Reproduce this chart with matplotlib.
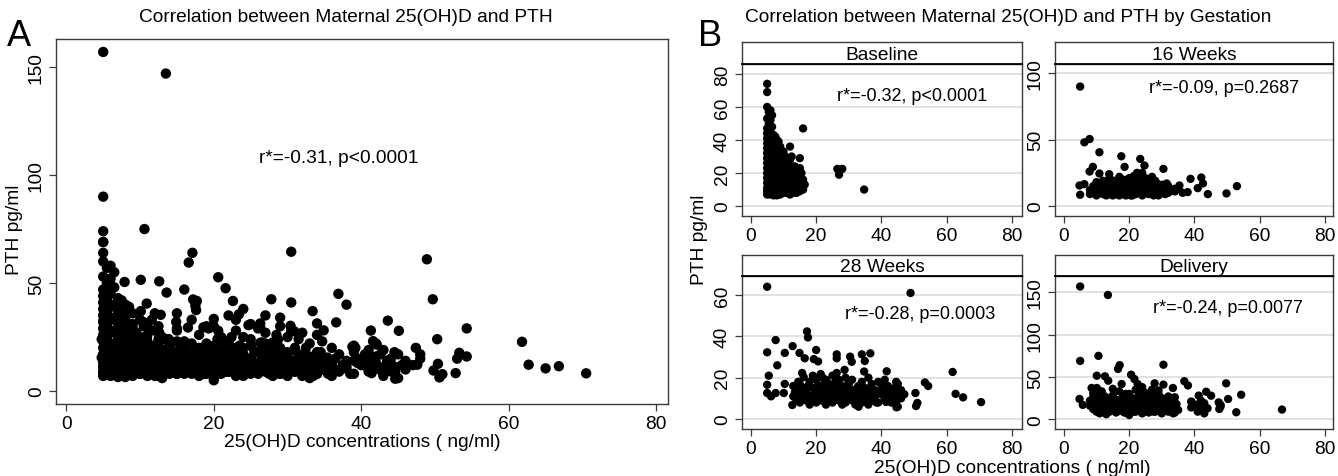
import matplotlib
matplotlib.use('Agg')
import matplotlib.pyplot as plt

plt.rcParams['font.family'] = ['Liberation Sans', 'DejaVu Sans']

# readings per gestation stage: (25(OH)D ng/ml, PTH pg/ml)
baseline = [
    (5, 74), (5, 69), (5, 60), (5, 53), (5, 47), (5, 44), (5, 41), (5, 38), (5, 35), (5, 32),
    (5, 29), (5, 26), (5, 23), (5, 20), (5, 17), (5, 14), (5, 11), (5, 9), (5, 7),
    (5.5, 57), (5.5, 50), (5.5, 42), (5.5, 36), (5.5, 30), (5.5, 24), (5.5, 18), (5.5, 12), (5.5, 8),
    (6, 58), (6, 52), (6, 45), (6, 39), (6, 33), (6, 27), (6, 21), (6, 15), (6, 10), (6, 7),
    (6.5, 55), (6.5, 48), (6.5, 40), (6.5, 34), (6.5, 28), (6.5, 22), (6.5, 16), (6.5, 12), (6.5, 8),
    (7, 43), (7, 37), (7, 31), (7, 25), (7, 19), (7, 13), (7, 9), (7, 6.5),
    (7.5, 42), (7.5, 35), (7.5, 29), (7.5, 23), (7.5, 17), (7.5, 11), (7.5, 8),
    (8, 40), (8, 33), (8, 27), (8, 21), (8, 15), (8, 10), (8, 6.5),
    (8.5, 39), (8.5, 31), (8.5, 24), (8.5, 18), (8.5, 12), (8.5, 8),
    (9, 36), (9, 29), (9, 22), (9, 16), (9, 11), (9, 7),
    (9.5, 27), (9.5, 20), (9.5, 14), (9.5, 9),
    (10, 33), (10, 25), (10, 18), (10, 12), (10, 8),
    (10.5, 30), (10.5, 22), (10.5, 15), (10.5, 10),
    (11, 26), (11, 19), (11, 13), (11, 8), (11.5, 17), (11.5, 11),
    (12, 36), (12, 28), (12, 21), (12, 14), (12, 9), (12, 7),
    (12.5, 30), (12.5, 24), (12.5, 17), (12.5, 11),
    (13, 19), (13, 13), (13, 8), (13.5, 24), (13.5, 16), (13.5, 10),
    (14, 21), (14, 13), (14, 8), (14.5, 18), (14.5, 11),
    (15, 29), (15, 23), (15, 15), (15, 9), (15.5, 20), (15.5, 12),
    (16, 47), (16, 16), (16, 10), (16.5, 13),
    (26.5, 22.5), (28, 22.5), (27, 19), (34.7, 10),
]

weeks16 = [
    (5, 90), (6.3, 48), (7.9, 50.5), (10.9, 40.5), (17.6, 37.5), (23.4, 35.5), (24.7, 30.5),
    (18.6, 29.5), (8.9, 29.5), (7.9, 26), (30.5, 28), (10.9, 24.5), (13.9, 24), (22.4, 25),
    (21.4, 22.5), (38.8, 20.5), (42.1, 21.5), (42.6, 17), (53, 15), (4.8, 15.5), (6.3, 16.5),
    (5, 8.5), (44.1, 9), (49.8, 9.5), (35.4, 15.5), (36.4, 10), (37.9, 10.5), (41, 13.5),
    (8, 12), (8, 9), (9, 15), (9, 10), (10, 18), (10, 8), (11, 13), (11, 10),
    (12, 19), (12, 16), (12, 9), (13, 14), (13, 11), (13, 8),
    (14, 21), (14, 17), (14, 12), (14, 9), (15, 15), (15, 10), (15, 8),
    (16, 19), (16, 13), (16, 9), (17, 22), (17, 16), (17, 11), (17, 8),
    (18, 20), (18, 14), (18, 10), (19, 17), (19, 12), (19, 8),
    (20, 21), (20, 15), (20, 10), (21, 18), (21, 13), (21, 8),
    (22, 23), (22, 16), (22, 11), (22, 9), (23, 20), (23, 14), (23, 10),
    (24, 25), (24, 17), (24, 12), (24, 8), (25, 21), (25, 15), (25, 10),
    (26, 18), (26, 13), (26, 9), (27, 22), (27, 16), (27, 11),
    (28, 19), (28, 14), (28, 9), (29, 12), (29, 8), (30, 16), (30, 11),
    (31, 13), (31, 9), (32, 15), (32, 10), (34, 13), (34, 11),
    (10.5, 15), (11.5, 17), (12.5, 12), (13.5, 19), (15.5, 13), (16.5, 17), (18.5, 12),
    (19.5, 20), (20.5, 12), (21.5, 16), (23.5, 17), (25.5, 13), (26.5, 20), (28.5, 17),
    (29.5, 14), (31.5, 17), (33, 12), (35, 13), (27.5, 8), (20.5, 8), (15.5, 19),
]

weeks28 = [
    (5, 64), (48.9, 61), (17.2, 42.4), (17.5, 39.5), (7.6, 38.2), (12.8, 35.3), (5, 32.3),
    (10.4, 32), (14.9, 32), (16.5, 29.4), (20, 33.4), (19.3, 29), (20.6, 27.9), (26.3, 31.3),
    (26.3, 29.4), (30.4, 30.2), (30.9, 27.7), (34, 31.3), (34.9, 28.1), (36.6, 31.8), (8.1, 26),
    (26.3, 22.3), (28.7, 23.8), (15.7, 22.3), (16.2, 20.3), (34.7, 23), (41.6, 23.1), (5.5, 21),
    (21.4, 21.8), (61.8, 22.8), (53.3, 17.7), (54.3, 16), (62.7, 12.2), (65, 10.5), (70.5, 8.2),
    (12.7, 6.8), (5, 16.6), (5, 12.6), (7.6, 12.6), (10.4, 17), (10.1, 12.6), (50.4, 12.6),
    (51, 7.8), (50.6, 6.3), (44.6, 5.7), (44.6, 9), (46, 13.5), (44.6, 11.1), (41.4, 8.3), (6.2, 11),
    (13, 16), (13, 11), (14, 14), (14, 9), (15, 17), (15, 12), (15, 8), (16, 15), (16, 10),
    (17, 13), (17, 9), (18, 18), (18, 11), (18, 7), (19, 15), (19, 9), (20, 19), (20, 13), (20, 8),
    (21, 16), (21, 11), (22, 20), (22, 14), (22, 9), (23, 12), (23, 7), (24, 17), (24, 10),
    (25, 15), (25, 8), (26, 18), (26, 12), (27, 14), (27, 9), (28, 16), (28, 11), (28, 7),
    (29, 13), (29, 8), (30, 17), (30, 10), (31, 19), (31, 14), (31, 9), (32, 12), (32, 7),
    (33, 16), (33, 10), (33, 6), (34, 18), (34, 13), (34, 8), (35, 15), (35, 11),
    (36, 20), (36, 12), (36, 7), (37, 17), (37, 9), (38, 14), (38, 11), (39, 18), (39, 8),
    (40, 15), (40, 12), (41, 19), (41, 10), (42, 16), (42, 13), (43, 11), (43, 8),
    (44, 15), (44, 12), (45, 17), (45, 6), (46, 14), (46, 10), (47, 12),
    (13.5, 13), (14.5, 18), (15.5, 10), (16.5, 13), (17.5, 16), (18.5, 9), (19.5, 12),
    (20.5, 16), (21.5, 9), (22.5, 17), (23.5, 14), (24.5, 13), (25.5, 11), (26.5, 15),
    (27.5, 12), (28.5, 9), (29.5, 16), (30.5, 13), (31.5, 11), (32.5, 15), (33.5, 13),
    (34.5, 10), (35.5, 8), (36.5, 15), (37.5, 12), (38.5, 8), (39.5, 13), (40.5, 17),
    (41.5, 14), (42.5, 10), (43.5, 14), (44.5, 18), (45.5, 12), (23, 19), (27, 19),
    (29, 20), (25, 21), (19, 21),
]

delivery = [
    (5, 157), (13.5, 147), (5, 69), (10.6, 75), (17.1, 64), (16.6, 59.5), (30.5, 64.5),
    (10.1, 51.5), (12.6, 50.8), (13.6, 45.6), (20.6, 52.7), (21.6, 47.6), (22.6, 41.7),
    (17.7, 41.7), (27.8, 42.5), (30.5, 41), (36.9, 45), (38, 40), (33.4, 37), (49.7, 42.5),
    (54.3, 29), (52.8, 8.3), (50.3, 24), (43.6, 32.6), (45.1, 27.9), (41.3, 28), (47.4, 20),
    (47.6, 12.2), (8.5, 37), (10.1, 37), (4.8, 24), (5.8, 17), (11.6, 33), (12.6, 27),
    (39.2, 20), (40.7, 17), (66.8, 11.5),
    (8, 22), (8, 16), (9, 26), (9, 12), (10, 19), (10, 9), (11, 30), (11, 23), (11, 14), (11, 7),
    (12, 18), (12, 10), (13, 25), (13, 13), (13, 6), (14, 21), (14, 16), (14, 9), (15, 28), (15, 12),
    (16, 23), (16, 17), (16, 8), (17, 14), (17, 10), (18, 26), (18, 19), (18, 12), (19, 22), (19, 8),
    (20, 30), (20, 16), (20, 11), (20, 5), (21, 25), (21, 19), (21, 13), (22, 35), (22, 22), (22, 9),
    (23, 28), (23, 16), (23, 12), (24, 38), (24, 20), (24, 7), (25, 31), (25, 24), (25, 14), (25, 10),
    (26, 18), (26, 8), (27, 35), (27, 27), (27, 13), (28, 22), (28, 16), (28, 9), (29, 30), (29, 11),
    (30, 25), (30, 18), (30, 7), (31, 20), (31, 13), (32, 27), (32, 16), (32, 9), (33, 22), (33, 12),
    (34, 26), (34, 15), (34, 8), (35, 11), (39, 14), (39, 21), (41, 9), (41, 16), (42, 12), (42, 22),
    (43, 7), (43, 19), (44, 13), (48, 15), (48, 17),
    (9.5, 18), (10.5, 13), (12.5, 22), (13.5, 17), (14.5, 12), (15.5, 20), (16.5, 13),
    (17.5, 19), (18.5, 8), (19.5, 15), (20.5, 24), (21.5, 9), (22.5, 15), (23.5, 21),
    (24.5, 11), (25.5, 18), (26.5, 22), (27.5, 9), (28.5, 26), (29.5, 15), (30.5, 12),
    (31.5, 24), (32.5, 20), (33.5, 7), (34.5, 18), (19, 30), (17, 33), (15, 36), (23, 33),
    (26, 29), (29, 34), (9, 31), (10, 24),
]

panel_titles = ['Baseline', '16 Weeks', '28 Weeks', 'Delivery']
panel_notes = ['r*=-0.32, p<0.0001', 'r*=-0.09, p=0.2687', 'r*=-0.28, p=0.0003', 'r*=-0.24, p=0.0077']
panel_yticks = [[0, 20, 40, 60, 80], [0, 50, 100], [0, 20, 40, 60], [0, 50, 100, 150]]
xticks = [0, 20, 40, 60, 80]

W, H = 1338, 477
FS = 13.8
FRAME = '#3a3a3a'


def box(l, t, r, b):
    return [l / W, 1 - b / H, (r - l) / W, (b - t) / H]


def style(ax, yt):
    for s in ax.spines.values():
        s.set_color(FRAME)
        s.set_linewidth(1.0)
    ax.set_xticks(xticks)
    ax.set_yticks(yt)
    ax.tick_params(direction='out', length=5, width=0.9, color=FRAME, labelsize=FS, pad=3)
    for lab in ax.get_yticklabels():
        lab.set_rotation(90)
        lab.set_va('center')


fig = plt.figure(figsize=(W / 100, H / 100), dpi=100)

# panel A: all visits pooled
pooled = baseline + weeks16 + weeks28 + delivery
axA = fig.add_axes(box(56, 40, 668, 405))
axA.scatter([p[0] for p in pooled], [p[1] for p in pooled], s=56, c='black', edgecolors='none')
axA.set_xlim(-1.4, 81.6)
axA.set_ylim(-6, 163)
style(axA, [0, 50, 100, 150])
axA.text(37, 108, 'r*=-0.31, p<0.0001', fontsize=FS, ha='center', va='center')

fig.text(7 / W, 1 - 36 / H, 'A', fontsize=26, va='center')
fig.text(346 / W, 1 - 18 / H, 'Correlation between Maternal 25(OH)D and PTH', fontsize=FS, ha='center', va='center')
fig.text(15 / W, 1 - 230 / H, 'PTH pg/ml', fontsize=FS, rotation=90, ha='center', va='center')
fig.text(362 / W, 1 - 443 / H, '25(OH)D concentrations ( ng/ml)', fontsize=FS, ha='center', va='center')

# panel B: by gestation
datasets = [baseline, weeks16, weeks28, delivery]
boxes = [(742, 65, 1022, 217), (1055, 65, 1333, 217), (742, 277, 1022, 430), (1055, 277, 1333, 430)]
strip_tops = [43, 43, 256, 256]
ylims = [(-6, 86), (-7.5, 107), (-4.8, 69.2), (-11.5, 169.4)]
note_pos = [(49.4, 67), (49.2, 89.5), (51.8, 51.3), (50.4, 131.6)]

for i in range(4):
    l, t, r, b = boxes[i]
    ax = fig.add_axes(box(l, t, r, b))
    xlim_r = -2.7 + (r - l) / 3.266
    ax.set_xlim(-2.7, xlim_r)
    ax.set_ylim(*ylims[i])
    for v in panel_yticks[i]:
        ax.axhline(v, color='#dedede', lw=1.3, zorder=0)
    d = datasets[i]
    ax.scatter([p[0] for p in d], [p[1] for p in d], s=36, c='black', edgecolors='none', zorder=3)
    style(ax, panel_yticks[i])
    ax.text(note_pos[i][0], note_pos[i][1], panel_notes[i], fontsize=FS - 0.8, ha='center', va='center', zorder=4)

    sax = fig.add_axes(box(l, strip_tops[i], r, t))
    sax.set_xticks([])
    sax.set_yticks([])
    for s in sax.spines.values():
        s.set_color(FRAME)
        s.set_linewidth(1.0)
    sax.spines['bottom'].set_color('black')
    sax.spines['bottom'].set_linewidth(1.3)
    sax.text(0.5, 0.45, panel_titles[i], fontsize=FS, ha='center', va='center', transform=sax.transAxes)

fig.text(698 / W, 1 - 36 / H, 'B', fontsize=26, va='center')
fig.text(1008 / W, 1 - 18 / H, 'Correlation between Maternal 25(OH)D and PTH by Gestation', fontsize=FS, ha='center', va='center')
fig.text(700 / W, 1 - 240 / H, 'PTH pg/ml', fontsize=FS, rotation=90, ha='center', va='center')
fig.text(1012 / W, 1 - 469 / H, '25(OH)D concentrations ( ng/ml)', fontsize=FS, ha='center', va='center')

fig.savefig('out.png', dpi=100, facecolor='white')
